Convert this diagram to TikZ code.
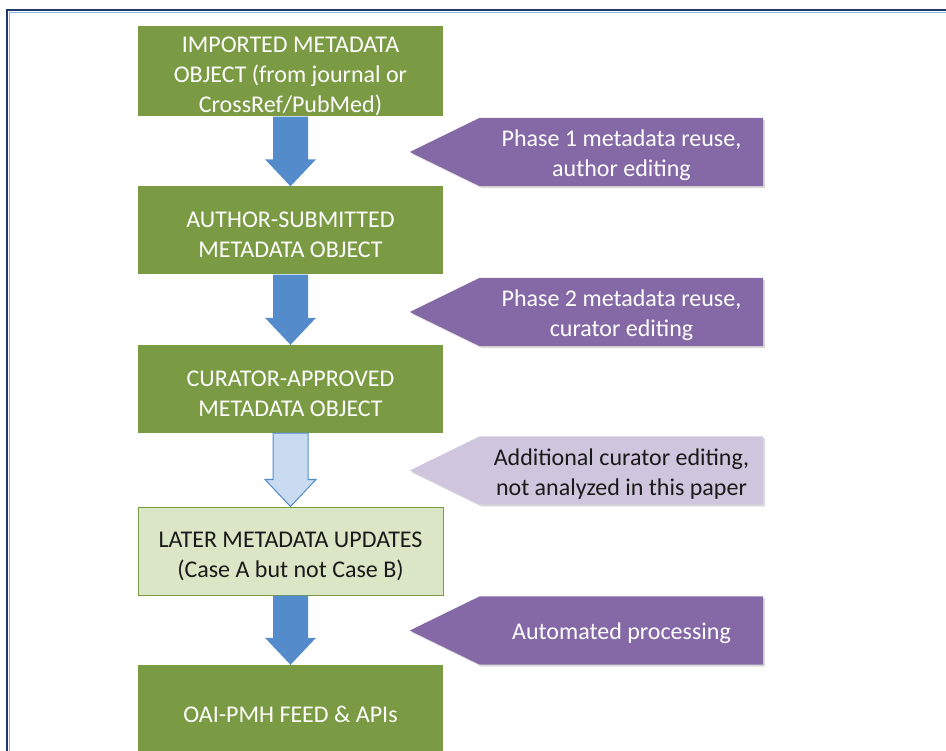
\documentclass[tikz,border=0pt]{standalone}
\usepackage{fontspec}
\setmainfont{Carlito}
\usetikzlibrary{calc,backgrounds}
\definecolor{grn}{HTML}{7A9A43}
\definecolor{lgrn}{HTML}{DAE6C5}
\definecolor{purp}{HTML}{8568A6}
\definecolor{lpurp}{HTML}{CFC5DD}
\definecolor{blu}{HTML}{548CCB}
\definecolor{lblu}{HTML}{C9DBF1}
\definecolor{navy}{HTML}{1F3A68}
\definecolor{frameblue}{HTML}{8DB3E2}
\definecolor{txt}{HTML}{1A1A1A}
\newcommand\flowarrow[3]{%
  \path[#1] ($(#2.south)+(-17.5,0)$) -- ($(#2.south)+(17.5,0)$)
    -- ($(#3.north)+(17.5,-27)$) -- ($(#3.north)+(25.5,-27)$)
    -- (#3.north)
    -- ($(#3.north)+(-25.5,-27)$) -- ($(#3.north)+(-17.5,-27)$) -- cycle;}
\newcommand\tagpath[3]{%
  \path[#1] ($(#2.north east)+(#3)$) -- ($(#2.south east)+(#3)$)
    -- ($(#2.south west)+(#3)$) -- ($(#2.west)+(-70,0)+(#3)$)
    -- ($(#2.north west)+(#3)$) -- cycle;}
\newcommand\lowtext[2]{\raisebox{-#1}[\height][\depth]{\begin{tabular}{@{}c@{}}#2\end{tabular}}}
\begin{document}
\begin{tikzpicture}[x=1pt,y=-1pt,
  box/.style={minimum width=305pt, minimum height=88pt, inner sep=0pt,
    font=\fontsize{24}{30}\selectfont},
  gbox/.style={box, fill=grn, text=white},
  lbox/.style={box, fill=lgrn, draw=grn, line width=1pt, text=txt},
  tagbox/.style={minimum width=283pt, minimum height=68pt, inner sep=0pt,
    font=\fontsize{24}{30}\selectfont},
  darkarrow/.style={fill=blu},
  lightarrow/.style={fill=lblu, draw=blu, line width=1pt},
  darktag/.style={fill=purp},
  lighttag/.style={fill=lpurp},
  tagshadow/.style={fill=black, opacity=.14},
]
\useasboundingbox (0,0) rectangle (946,751);
\clip (0,0) rectangle (946,751);
\begin{pgfonlayer}{background}
  \fill[white] (0,0) rectangle (946,751);
\end{pgfonlayer}
% frame
\draw[navy, line width=2pt] (7,760) -- (7,10) -- (960,10);
\draw[frameblue, line width=1pt] (9.5,760) -- (9.5,12.5) -- (960,12.5);

% boxes
\node[gbox] (b1) at (290.5,71.5) {\lowtext{5pt}{IMPORTED METADATA\\OBJECT (from journal or\\CrossRef/PubMed)}};
\node[gbox] (b2) at (290.5,230.5) {\lowtext{6.5pt}{AUTHOR-SUBMITTED\\METADATA OBJECT}};
\node[gbox] (b3) at (290.5,389) {\lowtext{6.5pt}{CURATOR-APPROVED\\METADATA OBJECT}};
\node[lbox] (b4) at (290.5,551) {\lowtext{5.5pt}{LATER METADATA UPDATES\\(Case A but not Case B)}};
\node[gbox] (b5) at (290.5,709) {\lowtext{7pt}{OAI-PMH FEED \& APIs}};

% arrows
\flowarrow{darkarrow}{b1}{b2}
\flowarrow{darkarrow}{b2}{b3}
\flowarrow{lightarrow}{b3}{b4}
\flowarrow{darkarrow}{b4}{b5}

% tags
\node[tagbox, text=white] (p1) at (621.5,152) {\lowtext{4pt}{Phase 1 metadata reuse,\\author editing}};
\node[tagbox, text=white] (p2) at (621.5,312) {\lowtext{4pt}{Phase 2 metadata reuse,\\curator editing}};
\node[tagbox, text=txt] (p3) at (621.5,470.5) {\lowtext{4pt}{Additional curator editing,\\not analyzed in this paper}};
\node[tagbox, text=white] (p4) at (621.5,630.5) {\lowtext{3pt}{Automated processing}};
\begin{pgfonlayer}{background}
  \tagpath{tagshadow}{p1}{2,2}
  \tagpath{darktag}{p1}{0,0}
  \tagpath{tagshadow}{p2}{2,2}
  \tagpath{darktag}{p2}{0,0}
  \tagpath{tagshadow}{p3}{2,2}
  \tagpath{lighttag}{p3}{0,0}
  \tagpath{tagshadow}{p4}{2,2}
  \tagpath{darktag}{p4}{0,0}
\end{pgfonlayer}
\end{tikzpicture}
\end{document}
